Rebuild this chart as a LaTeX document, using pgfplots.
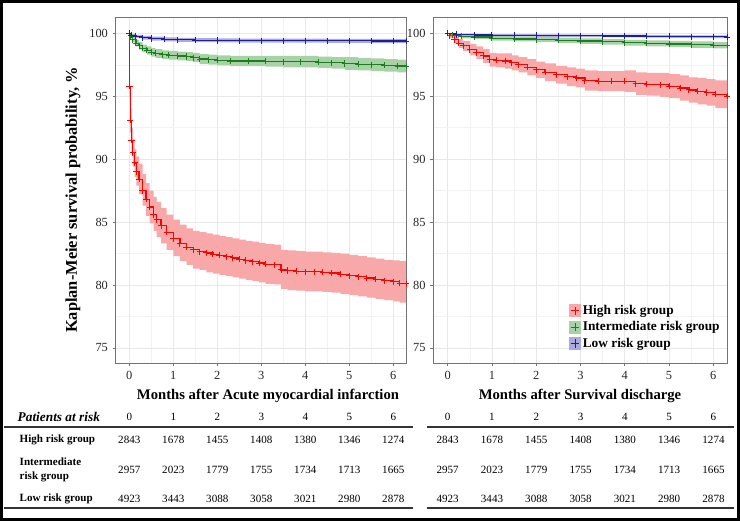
\documentclass[border=0pt]{standalone}
\usepackage{pgfplots}
\pgfplotsset{compat=1.18}
\usepackage{pgfplotstable}
\usepgfplotslibrary{fillbetween}
\usepackage{fontspec}
\setmainfont{Liberation Serif}

\definecolor{kmred}{RGB}{255,0,0}
\definecolor{kmgreen}{RGB}{30,125,30}
\definecolor{kmblue}{RGB}{30,30,150}
\definecolor{bred}{RGB}{248,168,168}
\definecolor{bgreen}{RGB}{166,210,166}
\definecolor{bblue}{RGB}{170,170,222}

% Left panel: months after acute myocardial infarction
\pgfplotstableread{
t s lo hi
0 100 100 100
0.003 95.8 94.9 96.6
0.02 93.1 92.1 94.0
0.05 91.5 90.5 92.5
0.08 90.5 89.4 91.6
0.12 89.7 88.6 90.8
0.16 89.0 87.9 90.2
0.22 88.4 87.2 89.6
0.3 87.5 86.3 88.8
0.38 86.8 85.5 88.1
0.46 86.2 84.9 87.5
0.55 85.6 84.3 87.0
0.62 85.2 83.8 86.6
0.72 84.7 83.3 86.1
0.85 84.2 82.8 85.6
1.0 83.7 82.3 85.2
1.15 83.3 81.9 84.8
1.3 83.0 81.6 84.5
1.45 82.8 81.3 84.3
1.6 82.65 81.2 84.2
1.75 82.55 81.0 84.1
1.9 82.45 80.9 84.0
2.05 82.35 80.8 83.9
2.2 82.25 80.7 83.8
2.35 82.15 80.6 83.7
2.5 82.05 80.5 83.6
2.65 81.95 80.4 83.5
2.8 81.85 80.3 83.45
2.95 81.75 80.2 83.35
3.1 81.65 80.1 83.25
3.3 81.6 80.05 83.2
3.45 81.2 79.7 82.8
3.6 81.15 79.6 82.75
3.8 81.1 79.55 82.7
4.0 81.05 79.5 82.65
4.2 81.05 79.5 82.65
4.4 81.0 79.45 82.6
4.6 80.95 79.4 82.55
4.8 80.85 79.3 82.5
5.0 80.75 79.2 82.4
5.2 80.65 79.1 82.3
5.4 80.55 79.0 82.2
5.6 80.45 78.9 82.1
5.8 80.35 78.8 82.0
6.0 80.25 78.7 81.95
6.15 80.15 78.6 81.9
6.29 80.1 78.5 81.9
}\LR
\pgfplotstableread{
t s lo hi
0 100 100 100
0.03 99.8 99.65 99.95
0.08 99.5 99.3 99.7
0.15 99.2 98.95 99.45
0.22 99.0 98.7 99.3
0.3 98.8 98.5 99.1
0.4 98.65 98.3 98.95
0.5 98.5 98.15 98.85
0.6 98.4 98.05 98.75
0.75 98.3 97.95 98.65
0.9 98.25 97.9 98.6
1.1 98.2 97.85 98.55
1.3 98.15 97.8 98.5
1.45 98.05 97.7 98.45
1.6 97.95 97.55 98.35
1.8 97.9 97.5 98.3
2.0 97.85 97.45 98.25
2.3 97.8 97.4 98.2
2.7 97.8 97.4 98.2
3.1 97.78 97.35 98.2
3.5 97.75 97.3 98.2
3.9 97.75 97.3 98.2
4.3 97.7 97.25 98.15
4.6 97.65 97.2 98.1
4.9 97.6 97.1 98.1
5.2 97.55 97.05 98.05
5.5 97.5 97.0 98.0
5.8 97.45 96.95 97.95
6.1 97.4 96.9 97.9
6.29 97.4 96.9 97.9
}\LG
\pgfplotstableread{
t s lo hi
0 100 100 100
0.05 99.85 99.75 99.95
0.15 99.75 99.62 99.88
0.3 99.65 99.5 99.8
0.5 99.58 99.42 99.74
0.8 99.52 99.36 99.68
1.1 99.48 99.32 99.64
1.5 99.45 99.29 99.61
2.0 99.43 99.27 99.59
2.5 99.42 99.26 99.58
3.0 99.42 99.26 99.58
3.5 99.41 99.25 99.57
4.0 99.41 99.25 99.57
4.5 99.4 99.24 99.56
5.0 99.4 99.24 99.56
5.5 99.39 99.22 99.56
6.0 99.38 99.21 99.55
6.29 99.38 99.21 99.55
}\LB
% Right panel: months after survival discharge
\pgfplotstableread{
t s lo hi
0 100 100 100
0.05 99.8 99.6 100
0.15 99.5 99.2 99.8
0.25 99.2 98.85 99.55
0.35 99.0 98.6 99.4
0.5 98.7 98.25 99.15
0.65 98.45 97.95 98.95
0.8 98.2 97.65 98.75
0.95 97.9 97.35 98.45
1.1 97.85 97.3 98.4
1.3 97.8 97.2 98.4
1.45 97.65 97.05 98.25
1.6 97.5 96.9 98.1
1.8 97.3 96.65 97.95
2.0 97.1 96.45 97.75
2.2 96.9 96.2 97.6
2.45 96.7 96.0 97.4
2.7 96.55 95.8 97.3
2.9 96.45 95.7 97.2
3.1 96.25 95.45 97.05
3.4 96.2 95.4 97.0
3.7 96.2 95.4 97.0
4.0 96.2 95.35 97.05
4.25 96.0 95.1 96.9
4.5 95.95 95.05 96.85
4.8 95.9 94.95 96.85
5.0 95.8 94.85 96.75
5.25 95.65 94.65 96.65
5.45 95.5 94.5 96.5
5.65 95.4 94.35 96.45
5.85 95.3 94.25 96.35
6.05 95.15 94.05 96.25
6.31 95.0 93.9 96.1
}\RR
\pgfplotstableread{
t s lo hi
0 100 100 100
0.1 99.85 99.75 99.95
0.3 99.75 99.6 99.9
0.6 99.7 99.53 99.87
1.0 99.6 99.42 99.78
1.5 99.55 99.36 99.74
2.0 99.5 99.3 99.7
2.5 99.45 99.24 99.66
3.0 99.38 99.16 99.6
3.5 99.32 99.1 99.54
4.0 99.25 99.02 99.48
4.5 99.2 98.96 99.44
5.0 99.15 98.9 99.4
5.5 99.1 98.85 99.35
6.0 99.05 98.8 99.3
6.31 99.05 98.8 99.3
}\RG
\pgfplotstableread{
t s lo hi
0 100 100 100
0.2 99.9 99.82 99.98
0.6 99.87 99.78 99.96
1.0 99.85 99.76 99.94
1.5 99.84 99.75 99.93
2.0 99.82 99.72 99.92
2.5 99.81 99.71 99.91
3.0 99.8 99.7 99.9
3.5 99.79 99.69 99.89
4.0 99.78 99.67 99.89
4.5 99.77 99.66 99.88
5.0 99.75 99.64 99.86
5.5 99.73 99.62 99.84
6.0 99.72 99.61 99.83
6.31 99.7 99.59 99.81
}\RB

\pgfplotsset{
 kmaxis/.style={
  scale only axis, anchor=north west,
  height=259.5pt,
  ymin=73.78, ymax=101.27,
  xtick={0,1,2,3,4,5,6}, ytick={75,80,85,90,95,100},
  minor xtick={0.5,1.5,2.5,3.5,4.5,5.5},
  minor ytick={77.5,82.5,87.5,92.5,97.5},
  grid=both,
  major grid style={draw=black!9, line width=0.5pt},
  minor grid style={draw=black!5, line width=0.3pt},
  axis line style={draw=black!55, line width=0.6pt},
  tick style={draw=black!55, line width=0.5pt},
  tick align=outside, major tick length=2.3pt, minor tick length=0pt,
  tick pos=left,
  ticklabel style={font=\fontsize{9.3}{11}\selectfont, text=black!85},
  /pgf/number format/assume math mode=true,
 },
 km/.style={const plot, line width=0.9pt, mark=+, mark size=2.3pt, mark options={line width=0.7pt}},
 bnd/.style={draw=none, const plot, forget plot},
}

\begin{document}
\begin{tikzpicture}

% ---------- left panel ----------
\begin{axis}[kmaxis, at={(86.775pt,377.775pt)}, width=217.725pt, xmin=-0.31, xmax=6.29]
\addplot[bnd, name path=LRhi] table[x=t,y=hi]{\LR};
\addplot[bnd, name path=LRlo] table[x=t,y=lo]{\LR};
\addplot[fill=bred, draw=none, forget plot] fill between[of=LRhi and LRlo];
\addplot[bnd, name path=LGhi] table[x=t,y=hi]{\LG};
\addplot[bnd, name path=LGlo] table[x=t,y=lo]{\LG};
\addplot[fill=bgreen, draw=none, forget plot] fill between[of=LGhi and LGlo];
\addplot[bnd, name path=LBhi] table[x=t,y=hi]{\LB};
\addplot[bnd, name path=LBlo] table[x=t,y=lo]{\LB};
\addplot[fill=bblue, draw=none, forget plot] fill between[of=LBhi and LBlo];
\addplot[km, kmred] table[x=t,y=s]{\LR};
\addplot[km, kmgreen] table[x=t,y=s]{\LG};
\addplot[km, kmblue] table[x=t,y=s]{\LB};
\end{axis}

% ---------- right panel ----------
\begin{axis}[kmaxis, at={(324.975pt,377.775pt)}, width=220.275pt, xmin=-0.325, xmax=6.31,
  legend style={at={(0.446,0.18)}, anchor=north west, draw=none, fill=none,
    font=\bfseries\fontsize{10}{12}\selectfont, row sep=1.8pt,
    nodes={inner sep=1pt}},
  legend cell align=left]
\addplot[bnd, name path=RRhi] table[x=t,y=hi]{\RR};
\addplot[bnd, name path=RRlo] table[x=t,y=lo]{\RR};
\addplot[fill=bred, draw=none, forget plot] fill between[of=RRhi and RRlo];
\addplot[bnd, name path=RGhi] table[x=t,y=hi]{\RG};
\addplot[bnd, name path=RGlo] table[x=t,y=lo]{\RG};
\addplot[fill=bgreen, draw=none, forget plot] fill between[of=RGhi and RGlo];
\addplot[bnd, name path=RBhi] table[x=t,y=hi]{\RB};
\addplot[bnd, name path=RBlo] table[x=t,y=lo]{\RB};
\addplot[fill=bblue, draw=none, forget plot] fill between[of=RBhi and RBlo];
\addplot[km, kmred, legend image code/.code={
  \fill[bred] (0pt,-4.4pt) rectangle (8.8pt,4.4pt);
  \draw[kmred, line width=0.7pt] (1.2pt,0pt)--(7.6pt,0pt) (4.4pt,-3.2pt)--(4.4pt,3.2pt);}]
  table[x=t,y=s]{\RR};
\addlegendentry{High risk group}
\addplot[km, kmgreen, legend image code/.code={
  \fill[bgreen] (0pt,-4.4pt) rectangle (8.8pt,4.4pt);
  \draw[kmgreen, line width=0.7pt] (1.2pt,0pt)--(7.6pt,0pt) (4.4pt,-3.2pt)--(4.4pt,3.2pt);}]
  table[x=t,y=s]{\RG};
\addlegendentry{Intermediate risk group}
\addplot[km, kmblue, legend image code/.code={
  \fill[bblue] (0pt,-4.4pt) rectangle (8.8pt,4.4pt);
  \draw[kmblue, line width=0.7pt] (1.2pt,0pt)--(7.6pt,0pt) (4.4pt,-3.2pt)--(4.4pt,3.2pt);}]
  table[x=t,y=s]{\RB};
\addlegendentry{Low risk group}
\end{axis}

% ---------- labels and risk tables (pixel coordinates) ----------
\begin{scope}[x=0.75pt, y=-0.75pt, shift={(0pt,390.75pt)}]
\node[rotate=90, font=\bfseries\fontsize{12.3}{14}\selectfont] at (73,200) {Kaplan-Meier survival probability, \%};
\node[font=\bfseries\fontsize{11}{13}\selectfont] at (268,396) {Months after Acute myocardial infarction};
\node[font=\bfseries\fontsize{11}{13}\selectfont] at (580,396) {Months after Survival discharge};

\node[anchor=west, font=\bfseries\itshape\fontsize{10}{12}\selectfont] at (13,417) {Patients at risk};
\foreach \m in {0,...,6} {
  \node[font=\fontsize{8.3}{10}\selectfont] at ({129.3+44*\m},417) {\m};
  \node[font=\fontsize{8.3}{10}\selectfont] at ({447.7+44.3*\m},417) {\m};
}
\draw[black!80, line width=0.8pt] (4,427)--(413,427) (427,427)--(734,427);
\draw[black!80, line width=0.8pt] (4,508)--(413,508) (427,508)--(734,508);

\begin{scope}[every node/.style={anchor=west, font=\bfseries\fontsize{8.3}{10}\selectfont, align=left}]
\node at (15,440) {High risk group};
\node at (15,470) {Intermediate\\risk group};
\node at (15,499) {Low risk group};
\end{scope}

\def\rowA{2843,1678,1455,1408,1380,1346,1274}
\def\rowB{2957,2023,1779,1755,1734,1713,1665}
\def\rowC{4923,3443,3088,3058,3021,2980,2878}
\foreach \v [count=\i from 0] in \rowA {
  \node[font=\fontsize{8.3}{10}\selectfont] at ({129.3+44*\i},440) {\v};
  \node[font=\fontsize{8.3}{10}\selectfont] at ({447.7+44.3*\i},440) {\v};
}
\foreach \v [count=\i from 0] in \rowB {
  \node[font=\fontsize{8.3}{10}\selectfont] at ({129.3+44*\i},470) {\v};
  \node[font=\fontsize{8.3}{10}\selectfont] at ({447.7+44.3*\i},470) {\v};
}
\foreach \v [count=\i from 0] in \rowC {
  \node[font=\fontsize{8.3}{10}\selectfont] at ({129.3+44*\i},499) {\v};
  \node[font=\fontsize{8.3}{10}\selectfont] at ({447.7+44.3*\i},499) {\v};
}

\draw[black, line width=2.4pt] (1.6,1.6) rectangle (738.2,519.2);
\end{scope}
\pgfresetboundingbox
\path[use as bounding box] (0pt,0pt) rectangle (555pt,390.75pt);
\end{tikzpicture}
\end{document}
